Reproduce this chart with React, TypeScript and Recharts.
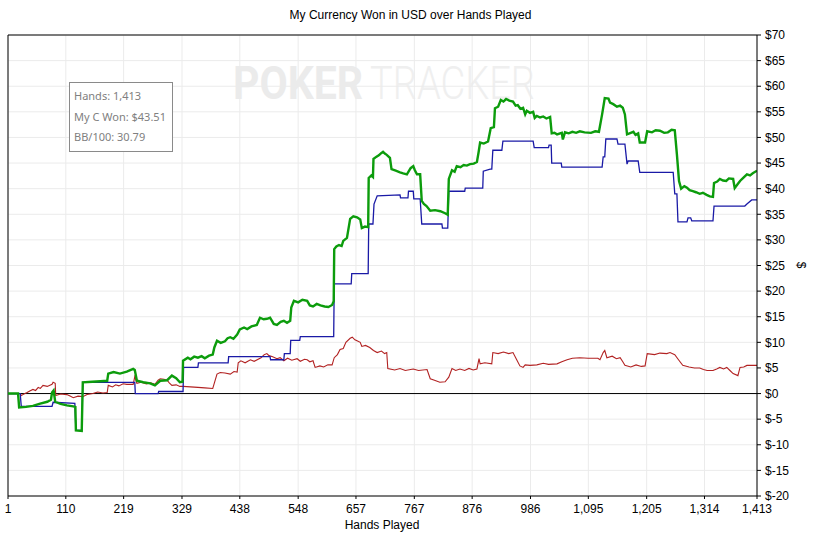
import { LineChart, Line, XAxis, YAxis, CartesianGrid, ReferenceLine } from 'recharts';

// hands played -> $ won
const wonPoints: [number, number][] = [
  [1, 0], [20, 0], [22, -2.7], [35, -2.6], [48, -2.4], [60, -2.0], [75, -1.6], [82, -1.2], [84, 0.2], [87, 0.6],
  [90, -1.6], [100, -2.0], [112, -2.3], [124, -2.5], [128, -2.6], [129, -7.2], [140, -7.3], [142, 2.2], [160, 2.3],
  [175, 2.4], [188, 2.5], [190, 3.9], [200, 4.2], [212, 3.9], [225, 4.3], [237, 4.8], [240, 4.6], [244, 2.5],
  [256, 2.2], [269, 2.0], [278, 1.6], [288, 2.5], [301, 2.6], [310, 3.5], [318, 3.0], [325, 2.2], [330, 2.3],
  [331, 6.4], [340, 7.0], [345, 6.7], [352, 7.2], [359, 7.0], [366, 7.3], [372, 6.9], [380, 7.4], [387, 7.6],
  [390, 9.0], [395, 10.3], [402, 9.9], [410, 10.2], [415, 10.8], [420, 11.0], [426, 10.7], [433, 11.5],
  [438, 12.5], [446, 12.9], [452, 12.6], [460, 13.1], [470, 13.4], [476, 14.8], [483, 14.5], [489, 14.6],
  [495, 14.8], [502, 13.6], [508, 13.4], [515, 14.0], [521, 14.2], [527, 13.8], [533, 14.2], [535, 16.8],
  [540, 18.1], [548, 17.8], [556, 18.3], [565, 18.1], [570, 17.2], [576, 17.0], [583, 17.5], [590, 17.2],
  [598, 17.0], [605, 16.9], [612, 17.3], [615, 18.0], [616, 28.2], [620, 28.7], [625, 29.0], [630, 28.8],
  [633, 29.8], [640, 30.4], [646, 34.1], [652, 34.6], [659, 34.4], [665, 34.0], [668, 32.3], [674, 32.6],
  [680, 32.5], [681, 42.1], [686, 42.6], [689, 42.3], [690, 45.8], [695, 46.2], [700, 46.5], [704, 46.9],
  [708, 47.2], [712, 46.8], [715, 46.6], [721, 46.0], [724, 43.8], [732, 43.5], [740, 43.2], [746, 43.0],
  [753, 42.8], [760, 44.0], [765, 44.4], [768, 43.6], [772, 42.8], [778, 42.8], [781, 37.6], [785, 37.0],
  [790, 36.6], [797, 35.7], [806, 35.8], [816, 35.6], [825, 35.2], [830, 34.9], [832, 41.9], [838, 43.6],
  [843, 43.3], [847, 44.4], [854, 44.2], [860, 44.6], [866, 44.5], [872, 44.8], [879, 44.9], [885, 45.2],
  [888, 47.0], [891, 49.0], [898, 48.8], [906, 49.2], [911, 51.8], [917, 52.0], [919, 55.7], [925, 56.0],
  [930, 57.3], [935, 57.0], [940, 57.5], [946, 57.2], [953, 57.0], [958, 56.2], [962, 56.3], [967, 55.6],
  [972, 55.8], [976, 54.5], [979, 55.2], [985, 54.8], [991, 55.0], [994, 53.8], [998, 54.2], [1004, 53.9],
  [1010, 54.1], [1016, 53.7], [1023, 54.0], [1026, 50.8], [1031, 50.9], [1036, 50.6], [1045, 50.9], [1047, 49.6],
  [1051, 51.0], [1058, 50.8], [1065, 51.1], [1072, 50.9], [1079, 51.2], [1088, 51.0], [1100, 50.9], [1108, 51.2],
  [1115, 51.1], [1121, 54.5], [1126, 57.7], [1133, 57.6], [1136, 56.8], [1142, 56.5], [1149, 56.0], [1155, 56.2],
  [1160, 55.8], [1164, 54.5], [1168, 50.6], [1175, 50.9], [1180, 51.1], [1184, 50.5], [1189, 50.8], [1192, 49.0],
  [1202, 49.0], [1206, 51.2], [1215, 51.0], [1222, 51.4], [1230, 51.3], [1238, 50.9], [1245, 51.0], [1252, 51.5],
  [1258, 51.4], [1262, 46.7], [1266, 41.5], [1270, 40.0], [1276, 40.5], [1281, 40.2], [1286, 39.7], [1292, 39.5],
  [1298, 39.3], [1305, 39.0], [1311, 39.2], [1318, 38.8], [1324, 38.5], [1330, 38.4], [1332, 41.1], [1338, 41.4],
  [1343, 41.9], [1349, 41.6], [1355, 41.5], [1360, 42.0], [1368, 41.9], [1371, 40.1], [1376, 40.8], [1381, 41.5],
  [1388, 42.2], [1394, 42.8], [1400, 42.6], [1405, 43.0], [1413, 43.51],
];

const showdownPoints: [number, number][] = [
  [1, 0], [24, 0], [26, -2.5], [84, -2.5], [86, -1.7], [127, -1.9], [129, -7.2], [140, -7.2], [142, 2.2],
  [240, 2.2], [241, 0], [284, 0], [285, 0.4], [331, 0.4], [332, 5.1], [359, 5.1], [360, 6.0], [416, 6.0],
  [417, 7.2], [495, 7.2], [496, 6.6], [521, 6.6], [522, 7.8], [533, 7.8], [534, 10.4], [551, 10.4], [552, 11.1],
  [615, 11.1], [616, 21.4], [648, 21.4], [649, 23.4], [680, 23.4], [681, 33.1], [689, 33.1], [691, 37.0],
  [697, 38.6], [740, 38.8], [741, 38.2], [755, 38.2], [756, 39.5], [765, 39.5], [766, 38.0], [778, 38.0],
  [781, 33.1], [819, 33.1], [820, 32.3], [830, 32.3], [832, 39.5], [862, 39.5], [863, 40.1], [896, 40.1],
  [897, 43.4], [910, 43.8], [913, 43.8], [915, 47.5], [932, 47.5], [934, 49.3], [991, 49.3], [993, 48.0],
  [1020, 48.0], [1021, 48.5], [1025, 48.5], [1026, 45.0], [1044, 45.0], [1045, 44.2], [1121, 44.2], [1123, 46.2],
  [1126, 46.2], [1128, 49.7], [1149, 49.7], [1151, 48.7], [1164, 48.7], [1168, 44.8], [1170, 45.4], [1189, 45.4],
  [1192, 43.2], [1255, 43.2], [1258, 39.0], [1262, 39.0], [1264, 33.5], [1281, 33.5], [1283, 34.3], [1288, 34.3],
  [1290, 33.7], [1330, 33.7], [1332, 36.6], [1390, 36.6], [1394, 37.0], [1403, 37.8], [1413, 37.8],
];

const nonShowdownPoints: [number, number][] = [
  [1, 0], [24, 0], [26, -0.4], [31, -0.1], [37, 0.2], [42, 0.5], [48, 0.8], [53, 0.6], [58, 1.2], [62, 1.0],
  [67, 1.6], [75, 1.4], [84, 1.8], [86, 2.2], [90, 2.0], [91, -0.4], [100, -0.1], [112, -0.2], [118, -0.5],
  [124, -0.8], [133, -0.5], [142, -0.6], [150, -0.2], [161, 0.0], [170, 0.3], [180, 0.1], [188, 0.2], [190, 1.6],
  [198, 1.3], [204, 1.7], [210, 1.5], [218, 1.9], [225, 1.8], [237, 1.8], [240, 3.3], [244, 2.0], [252, 2.2],
  [262, 1.9], [270, 2.1], [278, 1.8], [284, 2.6], [288, 2.9], [295, 2.8], [301, 2.6], [305, 2.1], [310, 1.6],
  [318, 1.7], [325, 1.4], [331, 1.4], [345, 1.3], [359, 1.2], [372, 1.1], [387, 1.0], [395, 3.8], [401, 4.1],
  [410, 4.0], [420, 3.8], [427, 4.3], [433, 4.2], [435, 6.0], [440, 6.4], [448, 6.0], [458, 6.6], [465, 6.3],
  [478, 7.0], [484, 7.6], [489, 7.8], [493, 7.4], [500, 7.2], [508, 6.8], [514, 7.0], [521, 6.4], [528, 6.9],
  [536, 6.5], [546, 6.8], [552, 6.3], [560, 6.7], [565, 6.6], [570, 6.2], [576, 6.4], [580, 5.1], [589, 5.4],
  [596, 5.2], [604, 5.6], [612, 5.6], [616, 7.0], [622, 7.6], [627, 8.6], [633, 8.8], [638, 10.0], [646, 10.8],
  [650, 11.0], [655, 10.5], [659, 10.3], [665, 10.0], [668, 9.2], [675, 9.4], [683, 9.0], [690, 8.4], [697, 8.0],
  [705, 8.3], [711, 7.8], [715, 8.0], [717, 4.9], [730, 4.6], [740, 4.9], [750, 4.5], [765, 4.8], [775, 4.5],
  [791, 4.7], [797, 2.9], [805, 2.6], [815, 2.2], [825, 2.3], [832, 3.2], [838, 4.9], [845, 4.5], [853, 4.8],
  [862, 4.5], [870, 4.9], [878, 4.6], [885, 4.8], [889, 6.8], [891, 5.8], [900, 6.0], [913, 5.8], [915, 8.0],
  [925, 7.8], [935, 8.1], [945, 7.8], [953, 8.0], [960, 6.6], [966, 5.4], [972, 5.1], [976, 5.6], [985, 5.5],
  [998, 5.6], [1010, 5.9], [1020, 5.7], [1036, 5.8], [1045, 6.2], [1055, 6.6], [1065, 6.9], [1079, 7.0],
  [1095, 6.9], [1113, 6.9], [1117, 6.6], [1123, 8.0], [1126, 8.4], [1130, 7.0], [1140, 7.3], [1148, 6.8],
  [1155, 7.0], [1160, 6.2], [1164, 5.5], [1175, 5.2], [1185, 5.6], [1195, 5.3], [1202, 5.4], [1206, 7.8],
  [1220, 7.6], [1230, 7.9], [1243, 7.8], [1249, 8.0], [1258, 7.6], [1265, 6.6], [1273, 5.5], [1285, 5.2],
  [1295, 5.0], [1305, 5.0], [1312, 4.7], [1319, 4.5], [1330, 4.5], [1337, 4.8], [1343, 5.1], [1350, 4.8],
  [1356, 5.1], [1362, 4.5], [1368, 3.9], [1377, 3.5], [1381, 5.1], [1388, 5.2], [1394, 5.5], [1413, 5.5],
];

const handTicks = [1, 110, 219, 329, 438, 548, 657, 767, 876, 986, 1095, 1205, 1314, 1413];
const dollarTicks = [-20, -15, -10, -5, 0, 5, 10, 15, 20, 25, 30, 35, 40, 45, 50, 55, 60, 65, 70];

const toRows = (pts: [number, number][]) => pts.map(([h, v]) => ({ h, v }));

const TICK_STYLE = { fill: '#000', fontSize: 12, fontFamily: 'Liberation Sans, Arial, sans-serif' };

export default function App() {
  return (
    <div style={{ position: 'absolute', left: 0, top: 0, width: 821, height: 537, background: '#fff', fontFamily: 'Liberation Sans, Arial, sans-serif' }}>
      <svg width={821} height={537} style={{ position: 'absolute', left: 0, top: 0 }}>
        <text x={233} y={99} fontFamily="Roboto" fontWeight={700} fontSize={46} fill="#ebebeb" textLength={130} lengthAdjust="spacingAndGlyphs">
          POKER
        </text>
        <text x={370} y={99} fontFamily="Roboto" fontWeight={300} fontSize={46} fill="#efefef" textLength={165} lengthAdjust="spacingAndGlyphs">
          TRACKER
        </text>
      </svg>
      <div style={{ position: 'absolute', left: 0, top: 0 }}>
        <LineChart width={821} height={537} margin={{ top: 35, right: 8, bottom: 11, left: 8 }}>
          <CartesianGrid stroke="#ebebeb" />
          <XAxis
            dataKey="h"
            type="number"
            domain={[1, 1413]}
            ticks={handTicks}
            allowDataOverflow
            tickFormatter={(v: number) => v.toLocaleString('en-US')}
            tick={TICK_STYLE}
            tickSize={3}
            tickMargin={5}
            height={30}
            stroke="#000"
            interval={0}
          />
          <YAxis
            orientation="right"
            type="number"
            domain={[-20, 70]}
            ticks={dollarTicks}
            allowDataOverflow
            tickFormatter={(v: number) => `$${v}`}
            tick={TICK_STYLE}
            tickSize={4}
            tickMargin={4}
            width={56}
            stroke="#000"
            interval={0}
          />
          <ReferenceLine x={1} stroke="#000" />
          <ReferenceLine y={70} stroke="#000" />
          <ReferenceLine y={0} stroke="#000" />
          <Line data={toRows(nonShowdownPoints)} dataKey="v" type="linear" stroke="#b22222" strokeWidth={1.1} dot={false} isAnimationActive={false} />
          <Line data={toRows(showdownPoints)} dataKey="v" type="linear" stroke="#1a1aa6" strokeWidth={1.3} dot={false} isAnimationActive={false} />
          <Line data={toRows(wonPoints)} dataKey="v" type="linear" stroke="#0c9c0c" strokeWidth={2.4} dot={false} isAnimationActive={false} />
        </LineChart>
      </div>
      <div style={{ position: 'absolute', left: 0, width: 821, top: 8, textAlign: 'center', fontSize: 12, color: '#000' }}>
        My Currency Won in USD over Hands Played
      </div>
      <div style={{ position: 'absolute', left: 332, width: 100, top: 518, textAlign: 'center', fontSize: 12, color: '#000' }}>
        Hands Played
      </div>
      <div style={{ position: 'absolute', left: 798, top: 258, fontSize: 12, transform: 'rotate(90deg)', color: '#000' }}>$</div>
      <div
        style={{
          position: 'absolute',
          left: 69,
          top: 82,
          width: 104,
          height: 70,
          border: '1px solid #8a8a8a',
          background: '#fff',
          color: '#808080',
          fontFamily: 'Noto Sans, sans-serif',
          fontSize: 11,
          lineHeight: '20.5px',
          padding: '3px 0 0 4px',
          boxSizing: 'border-box',
          whiteSpace: 'nowrap',
        }}
      >
        <div>Hands: 1,413</div>
        <div>My C Won: $43.51</div>
        <div>BB/100: 30.79</div>
      </div>
    </div>
  );
}
